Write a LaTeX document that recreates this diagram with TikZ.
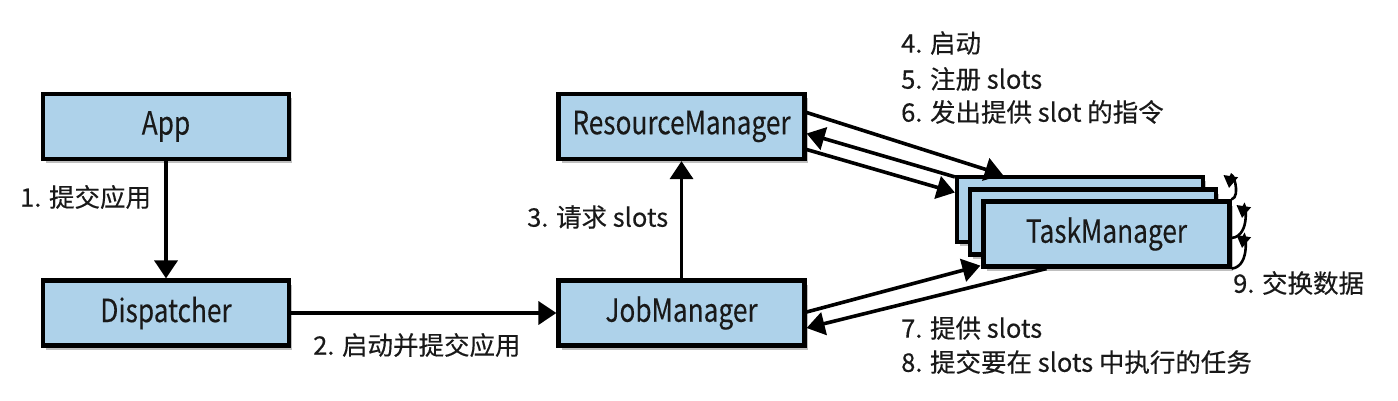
\documentclass[tikz,border=0pt]{standalone}
\usepackage{fontspec}
\setmainfont{Noto Sans CJK SC}[FakeBold=0.3]
\newfontfamily\boxfont{Noto Sans CJK SC}[FakeStretch=0.82,FakeBold=0.2]
\usetikzlibrary{arrows.meta,shadows}
\definecolor{boxblue}{RGB}{174,210,234}
\definecolor{ink}{RGB}{25,25,25}
\begin{document}
\begin{tikzpicture}[x=1pt,y=-1pt,
  box/.style={draw=black, line width=4.2pt, fill=boxblue, minimum width=246pt, minimum height=65pt,
    inner sep=0pt, text=ink, font=\boxfont\fontsize{32}{36}\selectfont,
    drop shadow={shadow xshift=3pt,shadow yshift=-4pt,opacity=0.25,fill=black}},
  conn/.style={line width=3.6pt, -{Triangle[length=18pt,width=23pt]}},
  lab/.style={font=\fontsize{25.5}{30}\selectfont, inner sep=0pt, anchor=west, text=ink},
  selfloop/.style={line width=2.6pt, -{Triangle[length=12pt,width=14pt]}}]
\fill[white] (0,0) rectangle (1398,400);
\useasboundingbox (0,0) rectangle (1398,400);

\node[box] (app) at (166,126.5) {App};
\node[box] (disp) at (166,313) {Dispatcher};
\node[box] (rm) at (681.5,126.5) {ResourceManager};
\node[box] (jm) at (681.5,313) {JobManager};
\node[box] (tm1) at (1080,209.5) {};
\node[box] (tm2) at (1093,222) {};
\node[box] (tm3) at (1106.5,234) {TaskManager};

\draw[conn] (app) -- (disp);
\draw[conn] (disp) -- (jm);
\draw[conn] (jm) -- (rm);

\draw[conn] ([yshift=14pt]rm.east) -- ([xshift=48pt]tm1.north west);
\draw[conn] ([yshift=-2pt]tm1.north west) -- ([yshift=-7pt]rm.east);
\draw[conn] ([yshift=-23pt]rm.east) -- ([yshift=17pt]tm1.west);
\draw[conn] ([yshift=1pt]jm.east) -- ([xshift=-1pt,yshift=3pt]tm3.south west);
\draw[conn] ([xshift=65pt]tm3.south west) -- ([yshift=-15pt]jm.east);

\coordinate (t1) at (1229,188);
\coordinate (t2) at (1242,218);
\coordinate (t3) at (1242,248);
\draw[selfloop] (tm3.north east) .. controls +(10,-3) and +(3,-20) .. (t1);
\draw[selfloop] ([yshift=-4pt]tm3.east) .. controls +(20,-2) and +(3,-20) .. (t2);
\draw[selfloop] (tm3.south east) .. controls +(20,-2) and +(3,-20) .. (t3);

\node[lab] (l1) at (20,197) {1. 提交应用};
\node[lab] (l2) at (313,345) {2. 启动并提交应用};
\node[lab] (l3) at (527,217) {3. 请求 slots};
\node[lab] (l4) at (901,43) {4. 启动};
\node[lab] (l5) at (901,79) {5. 注册 slots};
\node[lab] (l6) at (901,112) {6. 发出提供 slot 的指令};
\node[lab] (l9) at (1233,283) {9. 交换数据};
\node[lab] (l7) at (901,328) {7. 提供 slots};
\node[lab] (l8) at (901,362) {8. 提交要在 slots 中执行的任务};
\end{tikzpicture}
\end{document}
